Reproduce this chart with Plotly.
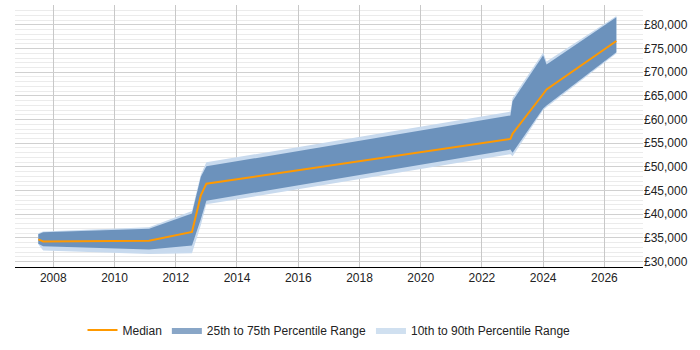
import plotly.graph_objects as go

years = [2007.51, 2007.67, 2011.13, 2012.53, 2012.82, 2013.0, 2022.93, 2023.0, 2024.0, 2024.11, 2026.39]
median = [34700, 34250, 34380, 36270, 44000, 46450, 55900, 57000, 65400, 66350, 76600]
p25 = [33760, 33220, 32560, 33410, 38970, 42860, 53660, 53000, 62330, 62970, 74210]
p75 = [35780, 36170, 36940, 40160, 47930, 50110, 60850, 63930, 73570, 71650, 81610]
p10 = [33660, 32310, 31600, 31730, 37730, 42090, 52690, 52230, 62000, 62580, 73960]
p90 = [35980, 36360, 37270, 40660, 48370, 50960, 61680, 64570, 74150, 72280, 81860]

x_ticks = [2008, 2010, 2012, 2014, 2016, 2018, 2020, 2022, 2024, 2026]

DARK = "#6C92BC"
LIGHT = "#C8DAEE"
DARK_LEG = "#89A6C7"
LIGHT_LEG = "#D0E0F0"
ORANGE = "#FF9900"

fig = go.Figure()

fig.add_trace(go.Scatter(x=years + years[::-1], y=p90 + p10[::-1], fill="toself",
                         fillcolor=LIGHT, line=dict(width=0), mode="lines",
                         showlegend=False, hoverinfo="skip"))
fig.add_trace(go.Scatter(x=years + years[::-1], y=p75 + p25[::-1], fill="toself",
                         fillcolor=DARK, line=dict(width=0), mode="lines",
                         showlegend=False, hoverinfo="skip"))
fig.add_trace(go.Scatter(x=years, y=median, mode="lines", name="Median",
                         line=dict(color=ORANGE, width=2), legendrank=1))
fig.add_trace(go.Scatter(x=[None], y=[None], fill="toself", fillcolor=DARK_LEG,
                         line=dict(width=0), mode="lines",
                         name="25th to 75th Percentile Range", legendrank=2))
fig.add_trace(go.Scatter(x=[None], y=[None], fill="toself", fillcolor=LIGHT_LEG,
                         line=dict(width=0), mode="lines",
                         name="10th to 90th Percentile Range", legendrank=3))

fig.update_layout(
    width=700, height=350,
    margin=dict(l=15, r=57, t=5, b=58),
    paper_bgcolor="white", plot_bgcolor="white",
    font=dict(family="Liberation Sans, Arial, sans-serif", size=12, color="#222"),
    legend=dict(orientation="h", x=0.5, xanchor="center", y=-0.185, yanchor="top",
                font=dict(size=12, color="#222"), traceorder="normal", itemwidth=30),
    xaxis=dict(range=[2006.75, 2027.26], tickvals=x_ticks, showgrid=True,
               gridcolor="#c8c8c8", gridwidth=1, showline=True, linecolor="black",
               linewidth=1, ticks="", zeroline=False),
    yaxis=dict(range=[28850, 84200], side="right", dtick=5000, tickprefix="£",
               tickformat=",d", showgrid=True, gridcolor="#d0d0d0", gridwidth=1,
               zeroline=False, showline=False, ticks="",
               minor=dict(dtick=1000, showgrid=True, gridcolor="#ebebeb", gridwidth=1)),
)

fig.write_html("out.html")
